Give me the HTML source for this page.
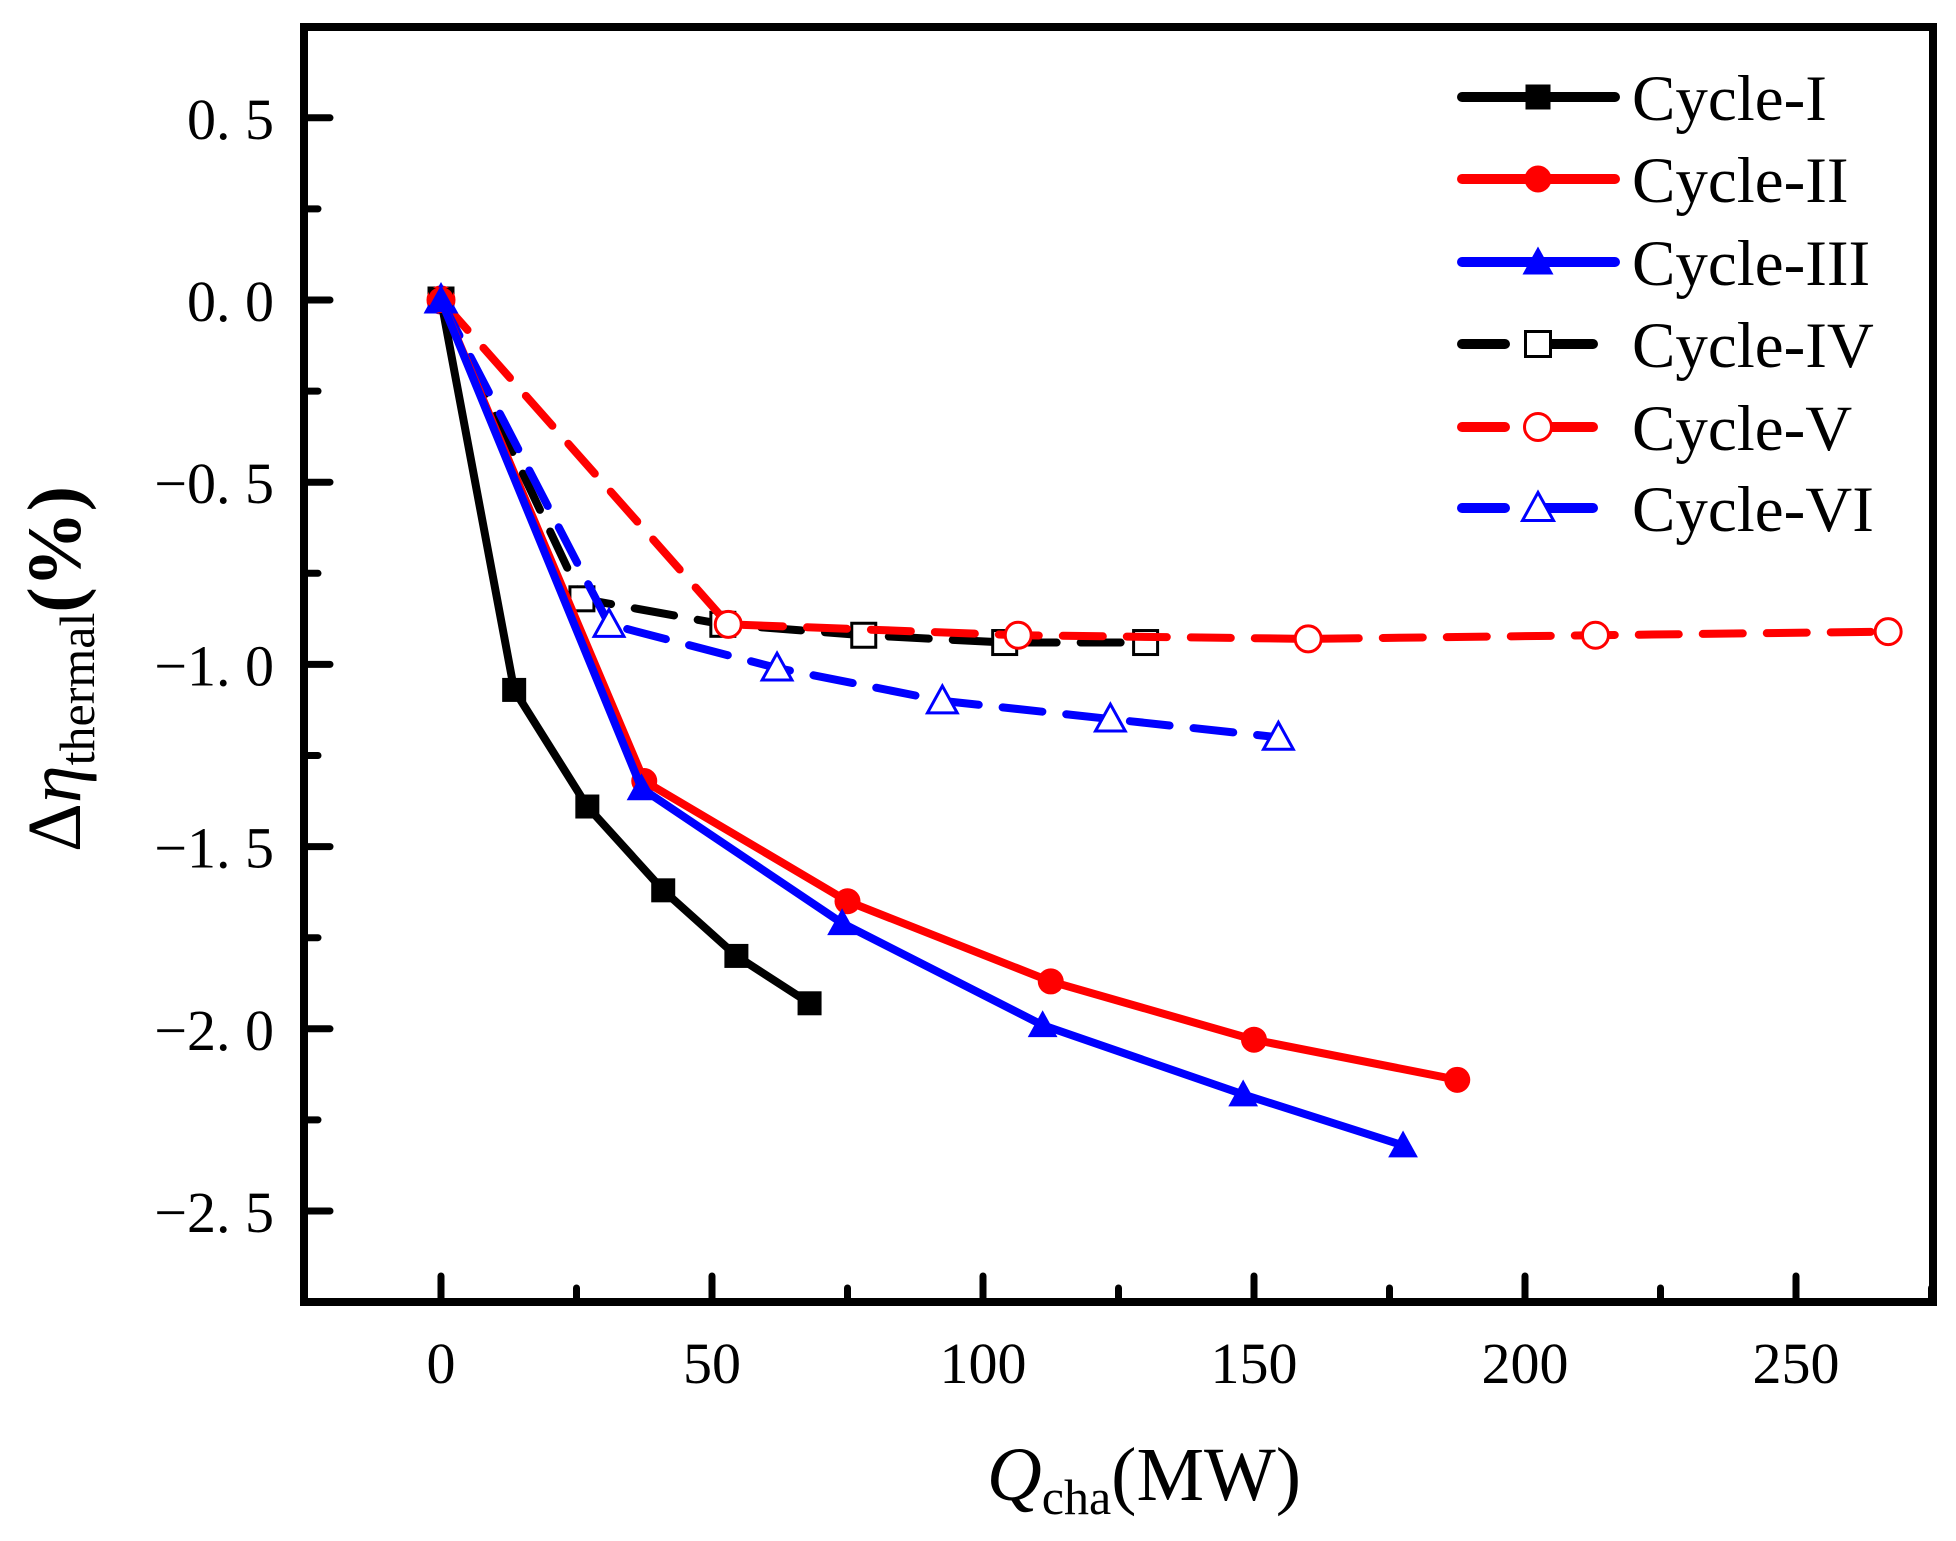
<!DOCTYPE html>
<html><head><meta charset="utf-8"><style>
html,body{margin:0;padding:0;background:#fff;width:1956px;height:1541px;overflow:hidden}
text{font-family:"Liberation Serif",serif}
</style></head><body>
<svg id="chart" width="1956" height="1541" viewBox="0 0 1956 1541" xmlns="http://www.w3.org/2000/svg">
<g id="plot"></g>
<text transform="translate(80,669) rotate(-90)" text-anchor="middle" font-size="76"><tspan>Δ</tspan><tspan font-style="italic">η</tspan><tspan font-size="50" dy="14">thermal</tspan><tspan dy="-14" font-weight="bold">(%)</tspan></text>
<text x="1144" y="1500" text-anchor="middle" font-size="76"><tspan font-style="italic">Q</tspan><tspan font-size="50" dy="14">cha</tspan><tspan dy="-14">(MW)</tspan></text>
</svg>
<script>
const seriesNames=["Cycle-I","Cycle-II","Cycle-III","Cycle-IV","Cycle-V","Cycle-VI"];
const xI=[0,13.5,27,41,54.5,68];
const yI=[0,-1.07,-1.39,-1.62,-1.80,-1.93];
const xII=[0,37.5,75,112.5,150,187.5];
const yII=[0,-1.32,-1.65,-1.87,-2.03,-2.14];
const xIII=[0,37,74,111,148,177.5];
const yIII=[0,-1.34,-1.71,-1.99,-2.18,-2.32];
const xIV=[0,26,52,78,104,130];
const yIV=[0,-0.82,-0.89,-0.92,-0.94,-0.94];
const xV=[0,53,106.5,160,213,267];
const yV=[0,-0.89,-0.92,-0.93,-0.92,-0.91];
const xVI=[0,31,62,92.5,123.5,154.5];
const yVI=[0,-0.89,-1.01,-1.10,-1.15,-1.20];
const xTicks=[0,50,100,150,200,250];
const yTicks=[0.5,0,-0.5,-1,-1.5,-2,-2.5];
const yTickLabels=["0. 5","0. 0","−0. 5","−1. 0","−1. 5","−2. 0","−2. 5"];

const NS="http://www.w3.org/2000/svg";
const X=v=>441+v*5.42;
const Y=v=>300-v*364.4;
const L=304,R=1933,T=27,B=1302;
const g=document.getElementById('plot');
function mk(tag,attrs,parent){const e=document.createElementNS(NS,tag);for(const k in attrs)e.setAttribute(k,attrs[k]);(parent||g).appendChild(e);return e;}

const fr=mk('rect',{x:L,y:T,width:R-L,height:B-T,fill:'none',stroke:'#000','stroke-width':8});



for(let i=0;i<xTicks.length;i++){
  const v=xTicks[i];
  const t=mk('line',{x1:X(v),x2:X(v),y1:B,y2:B-26,stroke:'#000','stroke-width':7,'stroke-linecap':'round'});
  
  
  const m=mk('line',{x1:X(v+25),x2:X(v+25),y1:B,y2:B-14,stroke:'#000','stroke-width':7,'stroke-linecap':'round'});
  
  
  const lb=mk('text',{x:X(v),y:1383,'text-anchor':'middle','font-size':58});
  lb.textContent=String(v);
  
  
}
for(let i=0;i<yTicks.length;i++){
  const v=yTicks[i];
  const t=mk('line',{x1:L,x2:L+26,y1:Y(v),y2:Y(v),stroke:'#000','stroke-width':7,'stroke-linecap':'round'});
  
  
  if(i<yTicks.length-1){
    const m=mk('line',{x1:L,x2:L+14,y1:Y(v-0.25),y2:Y(v-0.25),stroke:'#000','stroke-width':7,'stroke-linecap':'round'});
    
    
  }
  const lb=mk('text',{x:274,y:Y(v)+21,'text-anchor':'end','font-size':58});
  lb.textContent=yTickLabels[i];
  
  
}

const styles=[
 {c:'#000',dash:null,m:'square',fill:true},
 {c:'#f00',dash:null,m:'circle',fill:true},
 {c:'#00f',dash:null,m:'tri',fill:true},
 {c:'#000',dash:'40 24',m:'square',fill:false},
 {c:'#f00',dash:'40 24',m:'circle',fill:false},
 {c:'#00f',dash:'40 24',m:'tri',fill:false}];
const xs=[xI,xII,xIII,xIV,xV,xVI], ys=[yI,yII,yIII,yIV,yV,yVI];

function marker(s,cx,cy,sz,parent){
  const f=s.fill?s.c:'#fff';
  let e;
  if(s.m==='square') e=mk('rect',{x:cx-sz/2,y:cy-sz/2,width:sz,height:sz,fill:f,stroke:s.c,'stroke-width':s.fill?0:3},parent);
  else if(s.m==='circle') e=mk('circle',{cx:cx,cy:cy,r:sz/2+1,fill:f,stroke:s.c,'stroke-width':s.fill?0:3},parent);
  else e=mk('polygon',{points:`${cx},${cy-sz*0.62} ${cx-sz*0.62},${cy+sz*0.5} ${cx+sz*0.62},${cy+sz*0.5}`,fill:f,stroke:s.c,'stroke-width':s.fill?0:3},parent);
  return e;
}

const order=[3,4,5,0,1,2];
for(const k of order){
  const s=styles[k];
  const sg=mk('g',{});
  
  
  const pts=xs[k].map((x,i)=>X(x)+','+Y(ys[k][i])).join(' ');
  const pl=mk('polyline',{points:pts,fill:'none',stroke:s.c,'stroke-width':8,'stroke-linejoin':'round','stroke-linecap':'round'},sg);
  if(s.dash) pl.setAttribute('stroke-dasharray',s.dash);
  
  
  for(let i=0;i<xs[k].length;i++){
    const mm=marker(s,X(xs[k][i]),Y(ys[k][i]),24,sg);
    
    
  }
}

const legY=[97,179,262,344,427,508];
const lg=mk('g',{});


for(let k=0;k<6;k++){
  const s=styles[k],y=legY[k];
  const eg=mk('g',{},lg);
  
  
  if(s.dash){
    mk('line',{x1:1462,x2:1505,y1:y,y2:y,stroke:s.c,'stroke-width':10,'stroke-linecap':'round'},eg);
    mk('line',{x1:1545,x2:1593,y1:y,y2:y,stroke:s.c,'stroke-width':10,'stroke-linecap':'round'},eg);
  } else {
    mk('line',{x1:1462,x2:1615,y1:y,y2:y,stroke:s.c,'stroke-width':10,'stroke-linecap':'round'},eg);
  }
  marker(s,1538,y,25,eg);
  const t=mk('text',{x:1632,y:y+23,'font-size':65},eg);
  t.textContent=seriesNames[k];
}
</script>
</body></html>
